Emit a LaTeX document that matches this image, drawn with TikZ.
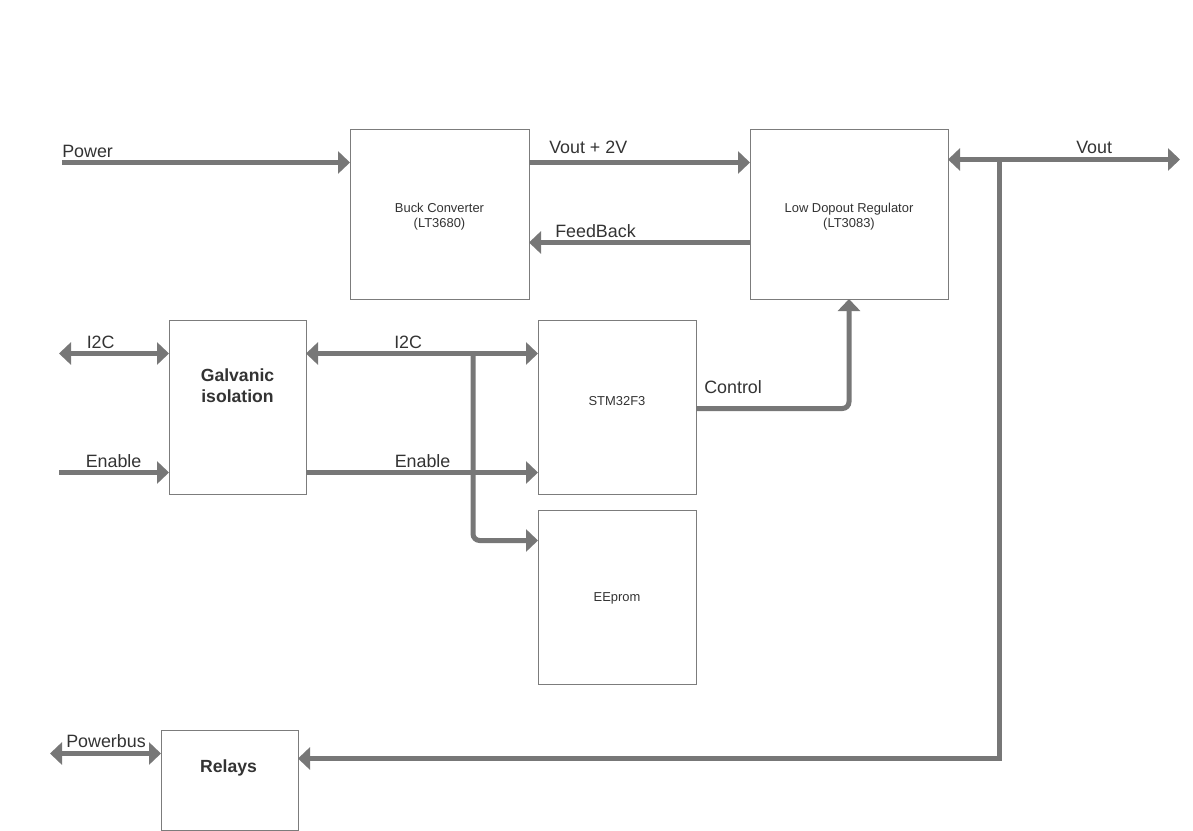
\documentclass[tikz,border=0pt]{standalone}
\usepackage{fontspec}
\setmainfont{Liberation Sans}
\usetikzlibrary{arrows.meta}

\definecolor{wiregray}{HTML}{777777}
\definecolor{framegray}{HTML}{7C7C7C}
\definecolor{inkgray}{HTML}{333333}

\tikzset{
  block/.style={draw=framegray, line width=0.75pt, fill=white, inner sep=0pt, outer sep=0pt},
  blocktext/.style={text=inkgray, align=center, inner sep=0pt, font=\fontsize{9.7}{11.5}\selectfont},
  boldtext/.style={text=inkgray, align=center, inner sep=0pt, font=\fontsize{13.2}{15.6}\selectfont\bfseries},
  sig/.style={text=inkgray, inner sep=0pt, anchor=base west, font=\fontsize{13.4}{16}\selectfont},
  wire/.style={draw=wiregray, line width=3.75pt},
  arr/.style={wire, -{Triangle[length=9pt,width=16.5pt]}},
  dbl/.style={wire, {Triangle[length=9pt,width=16.5pt]}-{Triangle[length=9pt,width=16.5pt]}},
}

\begin{document}
\begin{tikzpicture}[x=0.75pt, y=-0.75pt]
\useasboundingbox (0,0) rectangle (1193,831);

% blocks
\node[block, minimum width=134.25pt, minimum height=126.75pt] (buck) at (439.5,214.5) {};
\node[block, minimum width=148.5pt,  minimum height=126.75pt] (ldo)  at (849,214.5) {};
\node[block, minimum width=102.75pt, minimum height=130.5pt]  (galv) at (237.5,407) {};
\node[block, minimum width=118.5pt,  minimum height=130.5pt]  (stm)  at (617,407) {};
\node[block, minimum width=118.5pt,  minimum height=130.5pt]  (eep)  at (617,597) {};
\node[block, minimum width=102.75pt, minimum height=75pt]     (rel)  at (229.5,780) {};

% block captions
\node[blocktext] (bucktxt) at (439.5,216.5) {Buck Converter\\(LT3680)};
\node[blocktext] (ldotxt)  at (849,216.5) {Low Dopout Regulator\\(LT3083)};
\node[blocktext] (stmtxt)  at (617,401) {STM32F3};
\node[blocktext] (eeptxt)  at (617,598) {EEprom};
\node[boldtext]  (galvtxt) at (237.5,386) {Galvanic\\isolation};
\node[boldtext]  (reltxt)  at (228.5,767.5) {Relays};

% free ends and routing points
\coordinate (pwrin)  at (62,162.5);
\coordinate (yhi)    at (0,162.5);
\coordinate (yfb)    at (0,242.5);
\coordinate (vtap)   at (999,159.5);
\coordinate (voutend) at (1180,159.5);
\coordinate (vcorner) at (999,758.5);
\coordinate (i2cin)  at (59,353.5);
\coordinate (enin)   at (59,472.5);
\coordinate (ybus)   at (0,353.5);
\coordinate (yen)    at (0,472.5);
\coordinate (tap)    at (473,353.5);
\coordinate (yeep)   at (0,540.5);
\coordinate (yctl)   at (0,408.5);
\coordinate (pbus)   at (50,753.5);
\coordinate (ypb)    at (0,753.5);

% power path
\draw[arr] (pwrin) -- (buck.west |- pwrin);
\draw[arr] (buck.east |- yhi) -- (ldo.west |- yhi);
\draw[arr] (ldo.west |- yfb) -- (buck.east |- yfb);
\draw[dbl] (ldo.east |- vtap) -- (voutend);
\draw[arr] (vtap) -- (vcorner) -- (rel.east |- vcorner);

% control path
\draw[dbl] (i2cin) -- (galv.west |- i2cin);
\draw[arr] (enin) -- (galv.west |- enin);
\draw[dbl] (galv.east |- ybus) -- (stm.west |- ybus);
\draw[arr] (galv.east |- yen) -- (stm.west |- yen);
\draw[arr, rounded corners=5pt] (tap) |- (eep.west |- yeep);
\draw[arr, rounded corners=5pt] (stm.east |- yctl) -| (ldo.south);
\draw[dbl] (pbus) -- (rel.west |- ypb);

% signal labels
\node[sig] (lpower) at (62,157.5)    {Power};
\node[sig] (lvp2)   at (549,153.5)   {Vout + 2V};
\node[sig] (lfb)    at (555,237.5)   {FeedBack};
\node[sig] (lvout)  at (1076,153.5)  {Vout};
\node[sig] (li2ca)  at (86.5,348) {I2C};
\node[sig] (lena)   at (85.5,467) {Enable};
\node[sig] (li2cb)  at (394,348) {I2C};
\node[sig] (lenb)   at (394.5,467) {Enable};
\node[sig] (lctl)   at (704,393.5)   {Control};
\node[sig] (lpb)    at (66,747)  {Powerbus};
\end{tikzpicture}
\end{document}
